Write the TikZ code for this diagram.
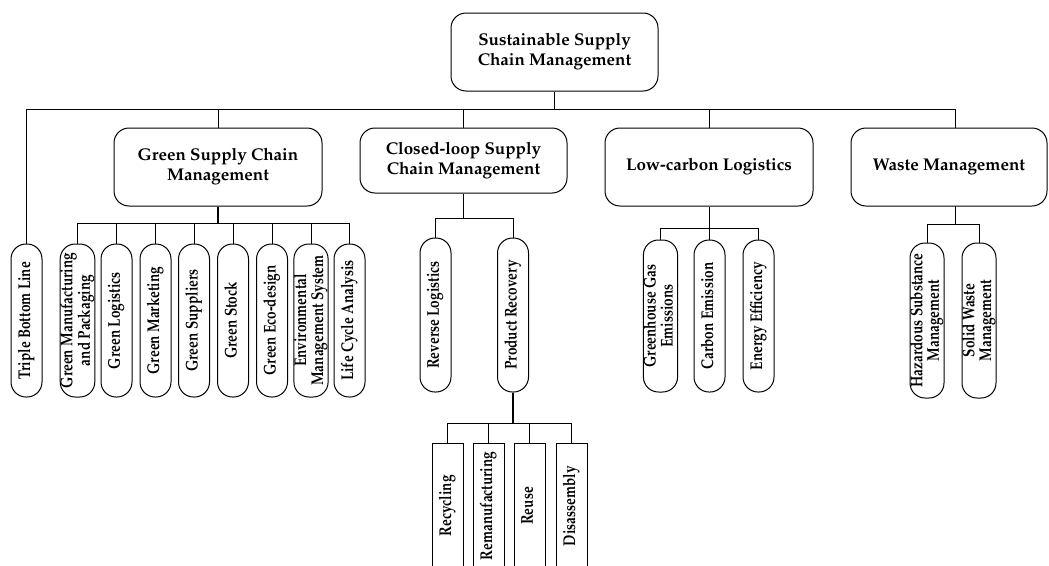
\documentclass[tikz,border=0pt]{standalone}
\usepackage[T1]{fontenc}
\usepackage{graphicx}
\renewcommand{\rmdefault}{ppl}
% narrow set of lines for the vertical leaf labels
\newcommand{\leaftext}[1]{\scalebox{0.8}[1]{\begin{tabular}{@{}c@{}}#1\end{tabular}}}
\begin{document}
\begin{tikzpicture}[x=1pt,y=-1pt,line width=1pt,
  box/.style={draw, rounded corners=15pt, inner sep=0pt, align=center,
    font=\fontsize{17}{20}\selectfont\bfseries},
  leaf/.style={draw, rounded corners=15pt, rotate=90, minimum height=31pt,
    inner sep=0pt, font=\fontsize{17}{16.7}\selectfont\bfseries},
  rleaf/.style={leaf, rounded corners=0pt},
  trunk/.style={line width=2pt}]
\useasboundingbox (0,0) rectangle (1049,565);
\clip (0,0) rectangle (1049,565);

% root
\node[box, minimum width=207pt, minimum height=78pt] (root) at (554.5,52)
  {Sustainable Supply\\Chain Management};

% first level
\node[box, minimum width=208pt, minimum height=78pt] (gscm) at (218,167)
  {Green Supply Chain\\Management};
\node[box, minimum width=207pt, minimum height=65pt] (clscm) at (463.5,160.5)
  {Closed-loop Supply\\Chain Management};
\node[box, minimum width=208pt, minimum height=78pt] (lcl) at (709,167)
  {Low-carbon Logistics};
\node[box, minimum width=196pt, minimum height=78pt] (wm) at (949,167)
  {Waste Management};

% leaves
\node[leaf, minimum width=153pt] (tbl) at (26.5,320.5) {\leaftext{Triple Bottom Line}};

\node[leaf, minimum width=153pt] (g1) at (77.5,320.5) {\leaftext{Green Manufacturing\\and Packaging}};
\node[leaf, minimum width=153pt] (g2) at (116.5,320.5) {\leaftext{Green Logistics}};
\node[leaf, minimum width=153pt] (g3) at (155.5,320.5) {\leaftext{Green Marketing}};
\node[leaf, minimum width=153pt] (g4) at (194,320.5) {\leaftext{Green Suppliers}};
\node[leaf, minimum width=153pt] (g5) at (233,320.5) {\leaftext{Green Stock}};
\node[leaf, minimum width=153pt] (g6) at (272,320.5) {\leaftext{Green Eco-design}};
\node[leaf, minimum width=153pt] (g7) at (311,320.5) {\leaftext{Environmental\\Management System}};
\node[leaf, minimum width=153pt] (g8) at (349.5,320.5) {\leaftext{Life Cycle Analysis}};

\node[leaf, minimum width=154pt] (c1) at (435.5,315) {\leaftext{Reverse Logistics}};
\node[leaf, minimum width=154pt] (c2) at (513,315) {\leaftext{Product Recovery}};

\node[rleaf, minimum width=126pt] (p1) at (447.5,506) {\leaftext{Recycling}};
\node[rleaf, minimum width=126pt] (p2) at (488.5,506) {\leaftext{Remanufacturing}};
\node[rleaf, minimum width=126pt] (p3) at (529.5,506) {\leaftext{Reuse}};
\node[rleaf, minimum width=126pt] (p4) at (571.5,506) {\leaftext{Disassembly}};

\node[leaf, minimum width=152pt] (l1) at (660.5,316) {\leaftext{Greenhouse Gas\\Emissions}};
\node[leaf, minimum width=152pt] (l2) at (709.5,316) {\leaftext{Carbon Emission}};
\node[leaf, minimum width=152pt] (l3) at (758.5,316) {\leaftext{Energy Efficiency}};

\node[leaf, minimum width=155pt, minimum height=32pt] (w1) at (927,320.5) {\leaftext{Hazardous Substance\\Management}};
\node[leaf, minimum width=155pt, minimum height=32pt] (w2) at (979,320.5) {\leaftext{Solid Waste\\Management}};

% bus levels
\coordinate (mainbus) at (26.5,109);
\coordinate (wmdrop) at (955,109);
\coordinate (gbus) at (0,223);
\coordinate (cbus) at (0,218);
\coordinate (pbus) at (0,423);
\coordinate (lbus) at (0,228);
\coordinate (wbus) at (0,224);
\coordinate (wmsub) at (955,206);

% root to first level
\draw (root.south) -- (root.south |- mainbus);
\draw (mainbus) -- (wmdrop);
\draw (tbl.east) -- (tbl.east |- mainbus);
\draw (gscm.north) -- (gscm.north |- mainbus);
\draw (clscm.north) -- (clscm.north |- mainbus);
\draw (lcl.north) -- (lcl.north |- mainbus);
\draw (wmdrop) -- (wmdrop |- wm.north);

% green supply chain management
\draw[trunk] (gscm.south) -- (gscm.south |- gbus);
\draw (g1.east |- gbus) -- (g8.east |- gbus);
\foreach \n in {g1,g2,g3,g4,g5,g6,g7,g8}
  \draw (\n.east) -- (\n.east |- gbus);

% closed-loop supply chain management
\draw (clscm.south) -- (clscm.south |- cbus);
\draw (c1.east |- cbus) -- (c2.east |- cbus);
\foreach \n in {c1,c2}
  \draw (\n.east) -- (\n.east |- cbus);

% product recovery
\draw[trunk] (c2.west) -- (c2.west |- pbus);
\draw (p1.east |- pbus) -- (p4.east |- pbus);
\foreach \n in {p1,p2,p3,p4}
  \draw (\n.east) -- (\n.east |- pbus);

% low-carbon logistics
\draw (lcl.south) -- (lcl.south |- lbus);
\draw (l1.east |- lbus) -- (l3.east |- lbus);
\foreach \n in {l1,l2,l3}
  \draw (\n.east) -- (\n.east |- lbus);

% waste management
\draw (wmsub) -- (wmsub |- wbus);
\draw (w1.east |- wbus) -- (w2.east |- wbus);
\foreach \n in {w1,w2}
  \draw (\n.east) -- (\n.east |- wbus);
\end{tikzpicture}
\end{document}
